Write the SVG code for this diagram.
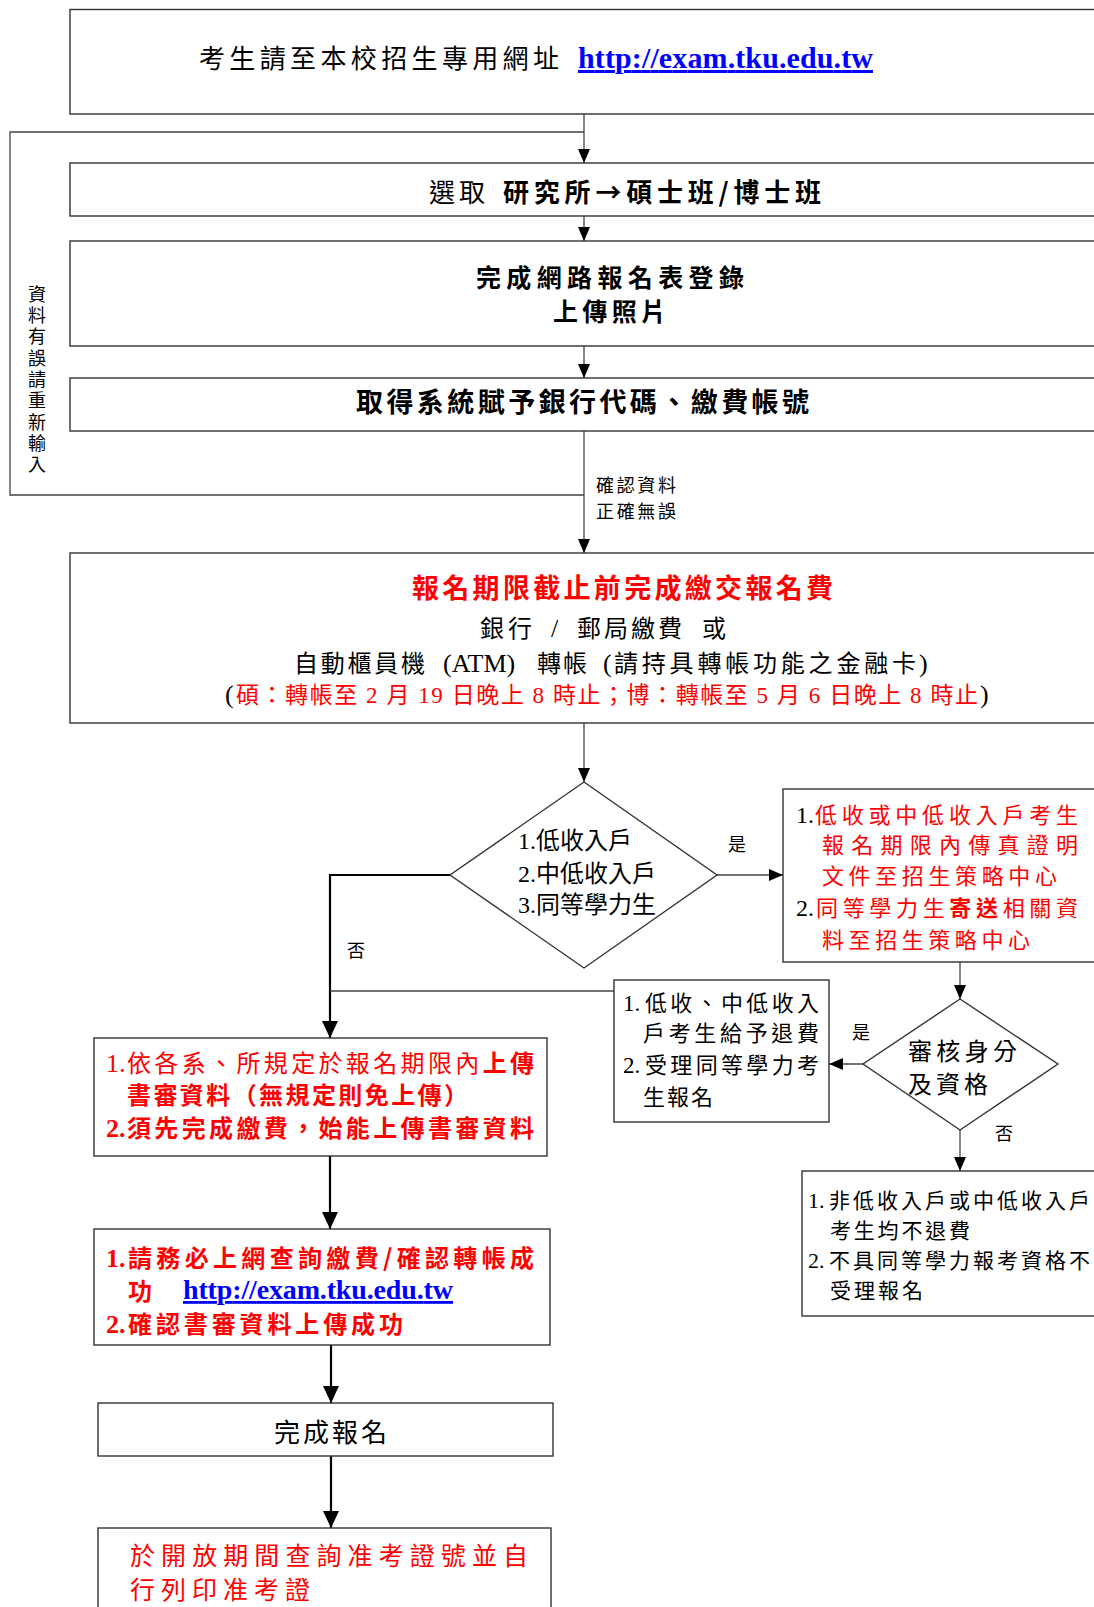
<svg xmlns="http://www.w3.org/2000/svg" width="1094" height="1607" viewBox="0 0 1094 1607">
<defs>
<style>
.box{fill:#fff;stroke:#333;stroke-width:1.4}
.c{fill:none;stroke:#444;stroke-width:1.3}
.ct{fill:none;stroke:#000;stroke-width:2.2}
text{font-family:'Liberation Serif','Noto Sans CJK TC',serif;fill:#000}
.cj{font-family:'Noto Sans CJK TC',sans-serif}
.b{font-weight:bold}
.r{fill:#f00}
.u{fill:#00f;font-weight:bold;text-decoration:underline}
.lab{font-family:'Noto Sans CJK TC',sans-serif;font-size:18px}
</style>
<marker id="a" markerUnits="userSpaceOnUse" markerWidth="14" markerHeight="12" refX="14" refY="6" orient="auto"><path d="M0,0L14,6L0,12z" fill="#000"/></marker>
<marker id="at" markerUnits="userSpaceOnUse" markerWidth="17" markerHeight="16" refX="17" refY="8" orient="auto"><path d="M0,0L17,8L0,16z" fill="#000"/></marker>
</defs>

<g id="connectors">
<path class="c" d="M584,114V163" marker-end="url(#a)"/>
<path class="c" d="M584,216V241" marker-end="url(#a)"/>
<path class="c" d="M584,346V378" marker-end="url(#a)"/>
<path class="c" d="M584,431V553" marker-end="url(#a)"/>
<path class="c" d="M584,495H10V132H584"/>
<path class="c" d="M584,723V782" marker-end="url(#a)"/>
<path class="c" d="M717,875H783" marker-end="url(#a)"/>
<path class="ct" d="M450,875H330V1038" marker-end="url(#at)"/>
<path class="c" d="M614,991H330"/>
<path class="c" d="M960,962V999" marker-end="url(#a)"/>
<path class="c" d="M863,1064H829" marker-end="url(#a)"/>
<path class="c" d="M960,1130V1171" marker-end="url(#a)"/>
<path class="ct" d="M330,1156V1229" marker-end="url(#at)"/>
<path class="ct" d="M331,1345V1403" marker-end="url(#at)"/>
<path class="ct" d="M331,1456V1528" marker-end="url(#at)"/>
<text class="lab" x="596" y="492" textLength="80">確認資料</text>
<text class="lab" x="596" y="518" textLength="80">正確無誤</text>
<text class="lab" x="728" y="851">是</text>
<text class="lab" x="347" y="957">否</text>
<text class="lab" x="852" y="1039">是</text>
<text class="lab" x="995" y="1140">否</text>
<text class="lab" x="37" y="285" font-size="17" writing-mode="tb" letter-spacing="3.3">資料有誤請重新輸入</text>
</g>

<g id="n-website">
<rect class="box" x="70" y="9.5" width="1040" height="104.5"/>
<text class="cj" x="199" y="68" font-size="26" textLength="360">考生請至本校招生專用網址</text>
<text class="u" x="578" y="68" font-size="30" textLength="295">http://exam.tku.edu.tw</text>
</g>

<g id="n-select">
<rect class="box" x="70" y="163" width="1040" height="53"/>
<text class="cj" x="429" y="202" font-size="26" textLength="56">選取</text>
<text class="cj b" x="503" y="202" font-size="26" textLength="318">研究所→碩士班/博士班</text>
</g>

<g id="n-register">
<rect class="box" x="70" y="241" width="1040" height="105"/>
<text class="cj b" x="476" y="287" font-size="25" textLength="268">完成網路報名表登錄</text>
<text class="cj b" x="553" y="321" font-size="25" textLength="113">上傳照片</text>
</g>

<g id="n-account">
<rect class="box" x="70" y="378" width="1040" height="53"/>
<text class="cj b" x="356" y="412" font-size="27" textLength="453">取得系統賦予銀行代碼、繳費帳號</text>
</g>

<g id="n-payment">
<rect class="box" x="70" y="553" width="1040" height="170"/>
<text class="cj b r" x="412" y="598" font-size="27" textLength="421">報名期限截止前完成繳交報名費</text>
<text class="cj" x="480" y="637" font-size="24" textLength="52">銀行</text>
<text x="551" y="637" font-size="26">/</text>
<text class="cj" x="577" y="637" font-size="24" textLength="105">郵局繳費</text>
<text class="cj" x="702" y="637" font-size="24">或</text>
<text class="cj" x="294" y="672" font-size="24" textLength="131">自動櫃員機</text>
<text x="443" y="672" font-size="26">(ATM)</text>
<text class="cj" x="537" y="672" font-size="24" textLength="50">轉帳</text>
<text x="603" y="672" font-size="26">(</text>
<text class="cj" x="614" y="672" font-size="24" textLength="302">請持具轉帳功能之金融卡</text>
<text x="919" y="672" font-size="26">)</text>
<text x="225" y="703" font-size="26">(</text>
<text class="r" x="236" y="703" font-size="23" textLength="742">碩：轉帳至 2 月 19 日晚上 8 時止；博：轉帳至 5 月 6 日晚上 8 時止</text>
<text x="980" y="703" font-size="26">)</text>
</g>

<g id="n-decision1">
<polygon class="box" points="584,782 717,875 584,968 450,875"/>
<text x="518" y="849" font-size="24">1.低收入戶</text>
<text x="518" y="882" font-size="24">2.中低收入戶</text>
<text x="518" y="913" font-size="24">3.同等學力生</text>
</g>

<g id="n-docs">
<rect class="box" x="783" y="789" width="330" height="173"/>
<text x="796" y="823" font-size="24">1.</text>
<text class="cj r" x="815" y="823" font-size="22" textLength="263">低收或中低收入戶考生</text>
<text class="cj r" x="822" y="853" font-size="22" textLength="256">報名期限內傳真證明</text>
<text class="cj r" x="822" y="884" font-size="22" textLength="235">文件至招生策略中心</text>
<text x="796" y="916" font-size="24">2.</text>
<text class="cj r" x="816" y="916" font-size="22" textLength="262">同等學力生<tspan class="b">寄送</tspan>相關資</text>
<text class="cj r" x="822" y="948" font-size="22" textLength="208">料至招生策略中心</text>
</g>

<g id="n-refund">
<rect class="box" x="614" y="980" width="215" height="142"/>
<text x="623" y="1011" font-size="23">1.</text>
<text class="cj" x="645" y="1011" font-size="22" textLength="174">低收、中低收入</text>
<text class="cj" x="643" y="1041" font-size="22" textLength="176">戶考生給予退費</text>
<text x="623" y="1073" font-size="23">2.</text>
<text class="cj" x="645" y="1073" font-size="22" textLength="174">受理同等學力考</text>
<text class="cj" x="643" y="1105" font-size="22" textLength="70">生報名</text>
</g>

<g id="n-decision2">
<polygon class="box" points="960,999 1058,1064 960,1130 863,1064"/>
<text class="cj" x="908" y="1060" font-size="24" textLength="109">審核身分</text>
<text class="cj" x="908" y="1093" font-size="24" textLength="80">及資格</text>
</g>

<g id="n-norefund">
<rect class="box" x="802" y="1171" width="310" height="145"/>
<text x="808" y="1208" font-size="22">1.</text>
<text class="cj" x="829" y="1208" font-size="21" textLength="261">非低收入戶或中低收入戶</text>
<text class="cj" x="830" y="1238" font-size="21" textLength="140">考生均不退費</text>
<text x="808" y="1268" font-size="22">2.</text>
<text class="cj" x="829" y="1268" font-size="21" textLength="261">不具同等學力報考資格不</text>
<text class="cj" x="830" y="1298" font-size="21" textLength="93">受理報名</text>
</g>

<g id="n-upload">
<rect class="box" x="94" y="1038" width="453" height="118"/>
<text class="r" x="106" y="1072" font-size="26">1.</text>
<text class="cj r" x="127" y="1072" font-size="24" textLength="407">依各系、所規定於報名期限內<tspan class="b">上傳</tspan></text>
<text class="cj r b" x="127" y="1104" font-size="24" textLength="341">書審資料（無規定則免上傳）</text>
<text class="r b" x="106" y="1137" font-size="26">2.</text>
<text class="cj r b" x="127" y="1137" font-size="24" textLength="407">須先完成繳費，始能上傳書審資料</text>
</g>

<g id="n-check">
<rect class="box" x="94" y="1229" width="456" height="116"/>
<text class="r b" x="106" y="1267" font-size="26">1.</text>
<text class="cj r b" x="128" y="1267" font-size="24" textLength="406">請務必上網查詢繳費/確認轉帳成</text>
<text class="cj r b" x="128" y="1300" font-size="24">功</text>
<text class="u" x="183" y="1299" font-size="28" textLength="270">http://exam.tku.edu.tw</text>
<text class="r b" x="106" y="1333" font-size="26">2.</text>
<text class="cj r b" x="128" y="1333" font-size="24" textLength="275">確認書審資料上傳成功</text>
</g>

<g id="n-done">
<rect class="box" x="98" y="1403" width="455" height="53"/>
<text class="cj" x="274" y="1442" font-size="26" textLength="113">完成報名</text>
</g>

<g id="n-admission">
<rect class="box" x="98" y="1528" width="453" height="100"/>
<text class="cj r" x="130" y="1565" font-size="25" textLength="398">於開放期間查詢准考證號並自</text>
<text class="cj r" x="130" y="1599" font-size="25" textLength="180">行列印准考證</text>
</g>
</svg>
